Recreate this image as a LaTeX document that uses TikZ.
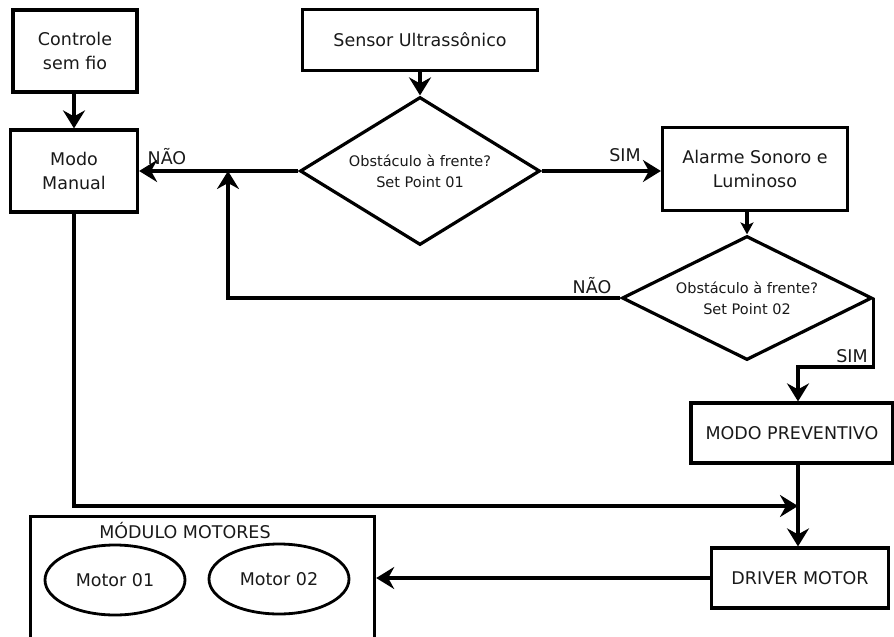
\documentclass[tikz,border=0pt]{standalone}
\usepackage{fontspec}
\setmainfont{DejaVu Sans}
\usetikzlibrary{shapes.geometric,arrows.meta}
\begin{document}
\begin{tikzpicture}[x=1pt,y=-1pt,
 box/.style={draw, line width=3.2pt, inner sep=0pt, align=center, text=black!90, font=\fontsize{17.5}{24}\selectfont},
 dia/.style={draw, diamond, line width=3.2pt, inner sep=0pt, align=center, text=black!90, font=\fontsize{14.5}{21}\selectfont},
 ell/.style={draw, ellipse, line width=2.8pt, inner sep=0pt, minimum width=140pt, minimum height=70pt, text=black!90, font=\fontsize{17.5}{20}\selectfont},
 lab/.style={inner sep=0pt, text=black!90, font=\fontsize{17.5}{20}\selectfont},
 conn/.style={line width=3.2pt},
 arr/.style={conn, -{Stealth[length=18pt,width=22pt,inset=6pt]}},
]
\useasboundingbox (0,0) rectangle (894,637);
\clip (0,0) rectangle (894,637);

\node[box, minimum width=124pt, minimum height=82pt] (ctrl) at (75,51) {Controle\\sem fio};
\node[box, minimum width=127pt, minimum height=82pt] (manual) at (74,171) {Modo\\Manual};
\node[box, minimum width=235pt, minimum height=61pt] (sensor) at (420,40) {Sensor Ultrassônico};
\node[dia, minimum width=240pt, minimum height=148pt, shape aspect=1.62] (d1) at (420,171) {Obstáculo à frente?\\Set Point 01};
\node[box, minimum width=185pt, minimum height=83pt] (alarm) at (755,169) {Alarme Sonoro e\\Luminoso};
\node[dia, minimum width=250pt, minimum height=124pt, shape aspect=2] (d2) at (747,298) {Obstáculo à frente?\\Set Point 02};
\node[box, minimum width=202pt, minimum height=60pt] (prev) at (792,433) {MODO PREVENTIVO};
\node[box, minimum width=177pt, minimum height=60pt] (driver) at (800,578) {DRIVER MOTOR};
\node[box, minimum width=344pt, minimum height=140pt, anchor=north west] (mod) at (29,515) {};
\node[lab] (modt) at (185,531) {MÓDULO MOTORES};
\node[ell] (m1) at (115,580) {Motor 01};
\node[ell] (m2) at (279,579) {Motor 02};

\node[lab] (no1) at (167,157) {NÃO};
\node[lab] (yes1) at (625,155) {SIM};
\node[lab] (no2) at (592,286) {NÃO};
\node[lab] (yes2) at (852,356) {SIM};

\draw[arr] (manual.north |- ctrl.south) -- (manual.north);
\draw[arr] (d1.north |- sensor.south) -- (d1.north);
\draw[arr] (d1.west) -- (d1.west -| manual.east);
\coordinate (j1) at (228,171);
\draw[arr] (d2.west) -| (j1);
\draw[arr] (d1.east) -- (d1.east -| alarm.west);
\draw[conn, -{Stealth[length=12pt,width=13pt,inset=3pt]}] (d2.north |- alarm.south) -- (d2.north);
\coordinate (k1) at (798,367);
\draw[arr] (d2.east) |- (k1) -- (k1 |- prev.north);
\draw[arr] (k1 |- prev.south) -- (k1 |- driver.north);
\coordinate (m0) at (798,506);
\draw[arr] (manual.south) |- (m0);
\draw[arr] (driver.west) -- (driver.west -| mod.east);
\end{tikzpicture}
\end{document}
